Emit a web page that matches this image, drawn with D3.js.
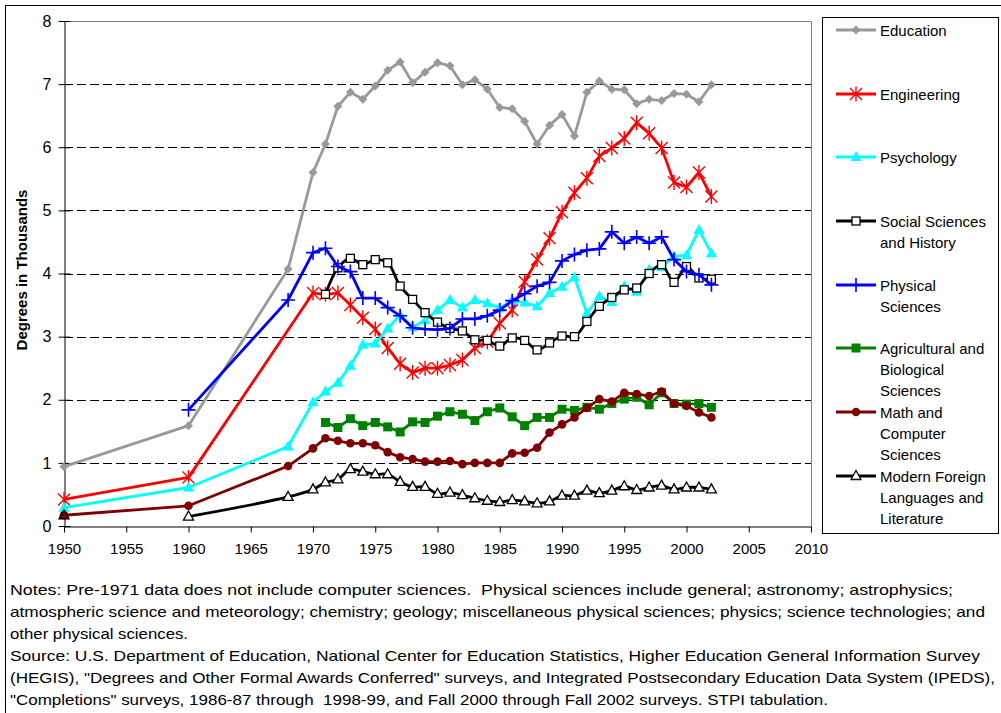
<!DOCTYPE html>
<html>
<head>
<meta charset="utf-8">
<script src="https://cdnjs.cloudflare.com/ajax/libs/d3/7.8.5/d3.min.js"></script>
<style>
  body { margin: 0; background: #fff; }
  svg { font-family: "Liberation Sans", Arial, sans-serif; }
</style>
</head>
<body>
<svg id="chart" width="1001" height="713"></svg>
<script>
// years shared by all series (null = no value that year)
const years = [1950, 1960, 1968, 1970, 1971, 1972, 1973, 1974, 1975, 1976, 1977, 1978, 1979,
  1980, 1981, 1982, 1983, 1984, 1985, 1986, 1987, 1988, 1989, 1990, 1991, 1992, 1993,
  1994, 1995, 1996, 1997, 1998, 1999, 2000, 2001, 2002];

const education = [0.94, 1.59, 4.07, 5.60, 6.05, 6.65, 6.87, 6.76, 6.97, 7.22, 7.35, 7.02, 7.19,
  7.34, 7.29, 6.99, 7.07, 6.92, 6.63, 6.61, 6.41, 6.05, 6.35, 6.52, 6.18, 6.87, 7.05,
  6.92, 6.91, 6.69, 6.76, 6.74, 6.85, 6.84, 6.72, 6.99];
const engineering = [0.42, 0.77, null, 3.69, 3.67, 3.69, 3.50, 3.30, 3.12, 2.82, 2.57, 2.43, 2.50,
  2.50, 2.55, 2.63, 2.82, 2.92, 3.21, 3.42, 3.87, 4.22, 4.56, 4.97, 5.28, 5.51, 5.86,
  5.99, 6.14, 6.39, 6.22, 5.99, 5.44, 5.37, 5.60, 5.22];
const psychology = [0.29, 0.61, 1.26, 1.96, 2.13, 2.27, 2.54, 2.87, 2.89, 3.13, 3.34, 3.15, 3.26,
  3.42, 3.58, 3.46, 3.58, 3.53, 3.45, 3.57, 3.54, 3.48, 3.69, 3.79, 3.94, 3.37, 3.64,
  3.55, 3.80, 3.71, 4.06, 4.10, 4.27, 4.29, 4.69, 4.32];
const socialSciences = [null, null, null, null, 3.67, 4.09, 4.24, 4.14, 4.22, 4.17, 3.80, 3.59, 3.38,
  3.23, 3.13, 3.09, 2.95, 2.94, 2.85, 2.98, 2.94, 2.79, 2.90, 3.01, 3.00, 3.24, 3.48,
  3.62, 3.74, 3.77, 4.00, 4.14, 3.86, 4.11, 3.93, 3.91];
const physical = [null, 1.84, 3.58, 4.33, 4.40, 4.11, 4.03, 3.61, 3.61, 3.46, 3.33, 3.14, 3.12,
  3.11, 3.13, 3.28, 3.28, 3.33, 3.42, 3.57, 3.68, 3.80, 3.86, 4.20, 4.30, 4.37, 4.39,
  4.66, 4.48, 4.58, 4.48, 4.58, 4.22, 4.03, 3.98, 3.82];
const agricultural = [null, null, null, null, 1.64, 1.56, 1.70, 1.59, 1.64, 1.57, 1.49, 1.65, 1.64,
  1.74, 1.81, 1.77, 1.67, 1.81, 1.87, 1.73, 1.59, 1.72, 1.72, 1.85, 1.83, 1.88, 1.85,
  1.94, 2.01, 2.04, 1.92, 2.11, 1.94, 1.93, 1.94, 1.88];
const mathComputer = [0.17, 0.32, 0.95, 1.23, 1.39, 1.35, 1.31, 1.31, 1.28, 1.17, 1.09, 1.06, 1.02,
  1.02, 1.03, 0.98, 1.00, 1.00, 1.00, 1.15, 1.16, 1.24, 1.48, 1.61, 1.72, 1.87, 2.01,
  1.97, 2.11, 2.09, 2.06, 2.13, 1.94, 1.90, 1.80, 1.72];
const foreignLang = [0.17, 0.15, 0.46, 0.58, 0.69, 0.74, 0.90, 0.86, 0.82, 0.82, 0.70, 0.62, 0.62,
  0.51, 0.53, 0.49, 0.44, 0.40, 0.38, 0.41, 0.39, 0.36, 0.39, 0.48, 0.48, 0.56, 0.52,
  0.56, 0.63, 0.57, 0.61, 0.64, 0.58, 0.61, 0.61, 0.58];
// the 1950 language point stands alone, the line starts in 1960
const foreignLangLineStart = 1960;

const yTicks = [0, 1, 2, 3, 4, 5, 6, 7, 8];
const xTicks = [1950, 1955, 1960, 1965, 1970, 1975, 1980, 1985, 1990, 1995, 2000, 2005, 2010];

const notes = [
  "Notes: Pre-1971 data does not include computer sciences.  Physical sciences include general; astronomy; astrophysics;",
  "atmospheric science and meteorology; chemistry; geology; miscellaneous physical sciences; physics; science technologies; and",
  "other physical sciences.",
  "Source: U.S. Department of Education, National Center for Education Statistics, Higher Education General Information Survey",
  "(HEGIS), \"Degrees and Other Formal Awards Conferred\" surveys, and Integrated Postsecondary Education Data System (IPEDS),",
  "\"Completions\" surveys, 1986-87 through  1998-99, and Fall 2000 through Fall 2002 surveys. STPI tabulation."
];

const series = [
  { name: ["Education"], values: education, color: "#999999", marker: "diamond", ly: 30 },
  { name: ["Engineering"], values: engineering, color: "#ff0000", marker: "star", ly: 94 },
  { name: ["Psychology"], values: psychology, color: "#00ffff", marker: "triangle", ly: 157 },
  { name: ["Social Sciences", "and History"], values: socialSciences, color: "#000000", marker: "openSquare", smooth: true, ly: 221 },
  { name: ["Physical", "Sciences"], values: physical, color: "#0000ff", marker: "plus", ly: 285 },
  { name: ["Agricultural and", "Biological", "Sciences"], values: agricultural, color: "#008000", marker: "square", ly: 348 },
  { name: ["Math and", "Computer", "Sciences"], values: mathComputer, color: "#800000", marker: "circle", ly: 412 },
  { name: ["Modern Foreign", "Languages and", "Literature"], values: foreignLang, color: "#000000", marker: "openTriangle", smooth: true, lineStart: foreignLangLineStart, ly: 476 }
];

const svg = d3.select("#chart");

// outer chart border
svg.append("rect")
  .attr("x", 5.5).attr("y", 5.5)
  .attr("width", 1010).attr("height", 720)
  .attr("fill", "none").attr("stroke", "#000");

const plot = { left: 64, right: 811, top: 21, bottom: 526 };

const x = d3.scaleLinear().domain([1950, 2010]).range([plot.left, plot.right]);
const y = d3.scaleLinear().domain([0, 8]).range([plot.bottom, plot.top]);

// plot area frame (top and right in grey)
svg.append("path")
  .attr("d", `M${plot.left},${plot.top + 0.5}H${plot.right + 0.5}V${plot.bottom}`)
  .attr("fill", "none").attr("stroke", "#808080");

// dashed gridlines
svg.append("g").selectAll("line")
  .data(yTicks.filter(d => d > 0 && d < 8))
  .enter().append("line")
  .attr("x1", plot.left).attr("x2", plot.right)
  .attr("y1", d => Math.round(y(d)) + 0.5).attr("y2", d => Math.round(y(d)) + 0.5)
  .attr("stroke", "#000").attr("stroke-dasharray", "9,4");

// y axis, ticks cross the axis line
const yAxis = svg.append("g")
  .attr("transform", `translate(${plot.left + 0.5},0)`)
  .call(d3.axisLeft(y).tickValues(yTicks).tickSize(6).tickSizeOuter(0).tickPadding(7));
yAxis.selectAll(".tick line").attr("x2", -6).attr("x1", 6);
yAxis.selectAll("text").style("font-size", "16px").attr("fill", "#000");

const xAxis = svg.append("g")
  .attr("transform", `translate(0,${plot.bottom + 0.5})`)
  .call(d3.axisBottom(x).tickValues(xTicks).tickFormat(d3.format("d")).tickSize(6).tickSizeOuter(0).tickPadding(11));
xAxis.selectAll("text").style("font-size", "15px").attr("fill", "#000");
svg.selectAll(".domain").attr("stroke", "#000");

svg.append("text")
  .attr("transform", "translate(21,270) rotate(-90)")
  .attr("text-anchor", "middle")
  .attr("dominant-baseline", "central")
  .style("font-size", "15px").style("font-weight", "bold")
  .text("Degrees in Thousands");

function drawMarker(g, type, color) {
  switch (type) {
    case "diamond":
      g.append("path").attr("d", "M0,-4.5L4.5,0L0,4.5L-4.5,0Z").attr("fill", color);
      break;
    case "star":
      g.append("path").attr("d", "M-6,-6L6,6M-6,6L6,-6M0,-7.5V7.5")
        .attr("stroke", color).attr("stroke-width", 1.4).attr("fill", "none");
      break;
    case "triangle":
      g.append("path").attr("d", "M0,-6L5.5,4L-5.5,4Z").attr("fill", color);
      break;
    case "openSquare":
      g.append("rect").attr("x", -4).attr("y", -4).attr("width", 8).attr("height", 8)
        .attr("fill", "#fff").attr("stroke", color).attr("stroke-width", 1.3);
      break;
    case "plus":
      g.append("path").attr("d", "M-7,0H7M0,-7V7")
        .attr("stroke", color).attr("stroke-width", 1.6);
      break;
    case "square":
      g.append("rect").attr("x", -4.5).attr("y", -4.5).attr("width", 9).attr("height", 9).attr("fill", color);
      break;
    case "circle":
      g.append("circle").attr("r", 4.3).attr("fill", color);
      break;
    case "openTriangle":
      g.append("path").attr("d", "M0,-5.5L5,3.5L-5,3.5Z")
        .attr("fill", "#fff").attr("stroke", color).attr("stroke-width", 1.3);
      break;
  }
}

const seriesLayer = svg.append("g");

series.forEach(s => {
  const pts = years.map((yr, i) => ({ year: yr, value: s.values[i] }))
    .filter(d => d.value !== null);
  const linePts = s.lineStart ? pts.filter(d => d.year >= s.lineStart) : pts;

  const line = d3.line()
    .x(d => x(d.year))
    .y(d => y(d.value))
    .curve(s.smooth ? d3.curveCatmullRom.alpha(0.5) : d3.curveLinear);

  const g = seriesLayer.append("g");
  g.append("path")
    .datum(linePts)
    .attr("d", line)
    .attr("fill", "none")
    .attr("stroke", s.color)
    .attr("stroke-width", 2.8)
    .attr("stroke-linejoin", "round");

  g.selectAll(".pt")
    .data(pts)
    .enter().append("g")
    .attr("class", "pt")
    .attr("transform", d => `translate(${x(d.year)},${y(d.value)})`)
    .each(function(d) {
      drawMarker(d3.select(this), s.marker, s.color);
      // stand-alone 1950 language marker sits on the math point and shows its fill
      if (s.lineStart && d.year < s.lineStart) d3.select(this).select("path").attr("fill", "#800000");
    });
});

// legend
const legend = svg.append("g");
legend.append("rect")
  .attr("x", 822.5).attr("y", 17.5).attr("width", 176).attr("height", 516)
  .attr("fill", "#fff").attr("stroke", "#000");

series.forEach(s => {
  const lg = legend.append("g").attr("transform", `translate(0,${s.ly})`);
  lg.append("line")
    .attr("x1", 836).attr("x2", 876)
    .attr("stroke", s.color).attr("stroke-width", 2.8);
  drawMarker(lg.append("g").attr("transform", "translate(856,0)"), s.marker, s.color);
  lg.selectAll("text")
    .data(s.name)
    .enter().append("text")
    .attr("x", 880)
    .attr("y", (d, i) => i * 21.2)
    .attr("dominant-baseline", "central")
    .style("font-size", "15px")
    .text(d => d);
});

// notes under the chart
const noteEnds = [953, 985, 188, 980, 995, 828];
svg.append("g").selectAll("text")
  .data(notes)
  .enter().append("text")
  .attr("x", 10)
  .attr("y", (d, i) => 595 + i * 22)
  .attr("textLength", (d, i) => noteEnds[i] - 10)
  .attr("lengthAdjust", "spacingAndGlyphs")
  .style("font-size", "15px")
  .style("white-space", "pre")
  .text(d => d);
</script>
</body>
</html>
